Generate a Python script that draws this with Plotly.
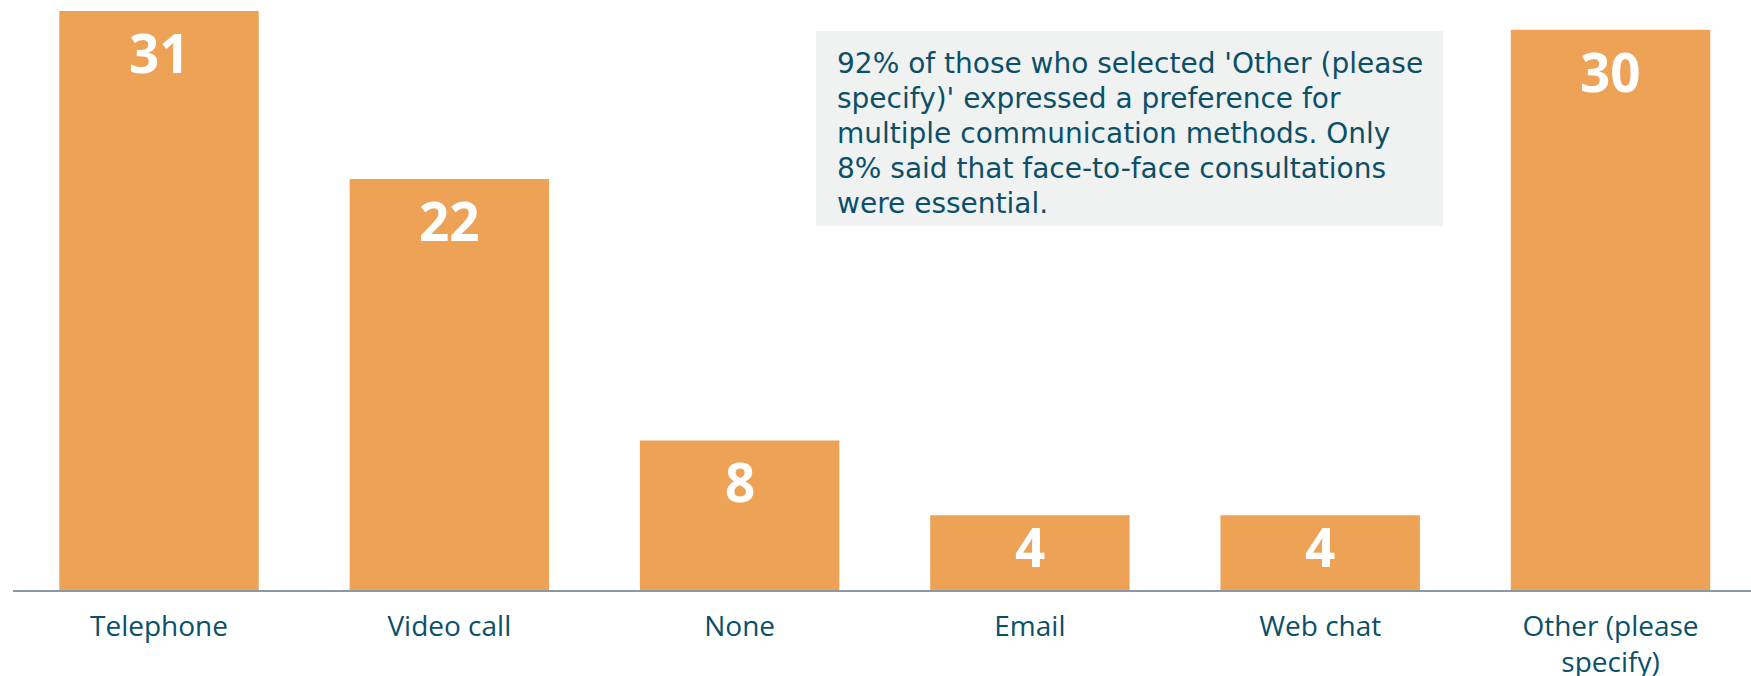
import plotly.graph_objects as go

# Preferred communication method (number of respondents)
categories = ["Telephone", "Video call", "None", "Email", "Web chat", "Other (please specify)"]
tick_labels = ["Telephone", "Video call", "None", "Email", "Web chat", "Other (please<br>specify)"]
counts = [31, 22, 8, 4, 4, 30]

note_lines = [
    "92% of those who selected 'Other (please",
    "specify)' expressed a preference for",
    "multiple communication methods. Only",
    "8% said that face-to-face consultations",
    "were essential.",
]

BAR_COLOR = "#EDA256"
TEXT_COLOR = "#0B5068"
FONT = "Open Sans"
NOTE_FONT = "DejaVu Sans"

W, H = 1751, 676
M_L, M_R, M_T, M_B = 13, 0, 0, 86
PLOT_W = W - M_L - M_R
PLOT_H = H - M_T - M_B
Y_MAX = 31.59
PX_PER_UNIT = PLOT_H / Y_MAX

NOTE_TOP = 44.5      # top of the first note line, px from the top
NOTE_STEP = 35.2     # line pitch of the note, px


def px_x(p):
    return (p - M_L) / PLOT_W


def px_y(p):
    return (H - M_B - p) / PLOT_H


fig = go.Figure(
    go.Bar(
        x=categories,
        y=counts,
        marker=dict(color=BAR_COLOR, line=dict(width=0)),
        hoverinfo="skip",
    )
)

# Value labels inside the top of each bar; short bars get their label pulled up
for cat, val in zip(categories, counts):
    bar_px = val * PX_PER_UNIT
    centre_offset = min(43.0, 0.44 * bar_px)
    fig.add_annotation(
        x=cat, y=val,
        xref="x", yref="y",
        text=str(val),
        showarrow=False,
        xanchor="center", yanchor="middle",
        yshift=-(centre_offset - 1.7),
        font=dict(family=FONT, size=53, color="white", weight="bold"),
    )

# Callout box with the note about 'Other' responses
fig.add_shape(
    type="rect",
    xref="paper", yref="paper",
    x0=px_x(816), x1=px_x(1443),
    y0=px_y(226), y1=px_y(31),
    fillcolor="#F0F2F2",
    line=dict(width=0),
    layer="below",
)
for i, line in enumerate(note_lines):
    fig.add_annotation(
        xref="paper", yref="paper",
        x=px_x(834.5), y=px_y(NOTE_TOP + i * NOTE_STEP),
        xanchor="left", yanchor="top",
        align="left",
        showarrow=False,
        text=line,
        font=dict(family=NOTE_FONT, size=28, color=TEXT_COLOR),
    )

fig.update_layout(
    width=W, height=H,
    margin=dict(l=M_L, r=M_R, t=M_T, b=M_B, pad=0, autoexpand=False),
    paper_bgcolor="white",
    plot_bgcolor="white",
    bargap=0.313,
    showlegend=False,
    font=dict(family=FONT, color=TEXT_COLOR),
)

fig.update_xaxes(
    tickmode="array",
    tickvals=categories,
    ticktext=tick_labels,
    tickfont=dict(family=FONT, size=28, color=TEXT_COLOR),
    ticklabelstandoff=10,
    automargin=False,
    range=[-0.503, 5.484],
    showline=True,
    linecolor="#8B99A7",
    linewidth=2,
    ticks="",
    showgrid=False,
    zeroline=False,
    fixedrange=True,
)
fig.update_yaxes(
    range=[0, Y_MAX],
    visible=False,
    showgrid=False,
    zeroline=False,
    fixedrange=True,
    automargin=False,
)

fig.write_html("out.html", config={"displayModeBar": False})
